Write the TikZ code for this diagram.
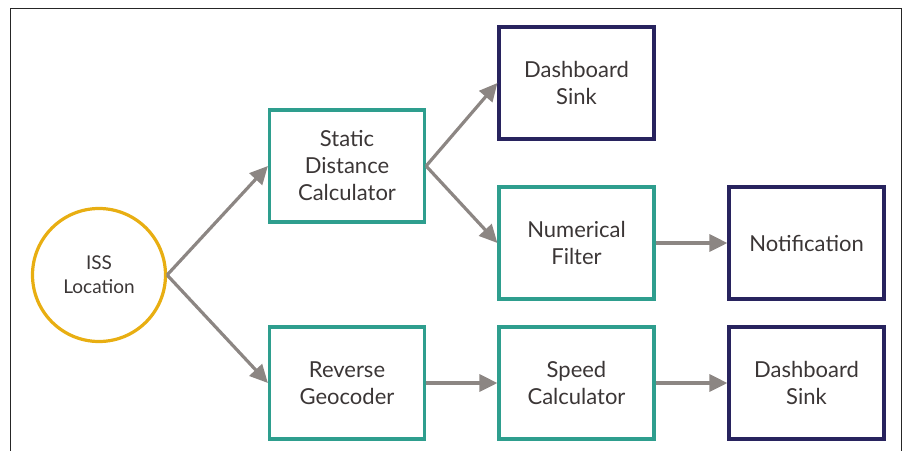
\documentclass[tikz,border=0pt]{standalone}
\usepackage{fontspec}
\setmainfont{Lato}
\usetikzlibrary{arrows.meta}
\definecolor{procteal}{HTML}{2E9E8E}
\definecolor{sinknavy}{HTML}{28235E}
\definecolor{srcgold}{HTML}{E8AE12}
\definecolor{flowgray}{HTML}{8C8683}
\definecolor{labelgray}{HTML}{3B3636}
\tikzset{
  box/.style={rectangle, draw, line width=3.2pt, minimum width=155pt, minimum height=112pt,
    align=center, text=labelgray, font=\fontsize{22pt}{27pt}\selectfont},
  proc/.style={box, draw=procteal},
  sink/.style={box, draw=sinknavy},
  source/.style={circle, draw=srcgold, line width=3.2pt, minimum size=133pt, inner sep=0pt,
    align=center, text=labelgray, font=\fontsize{19pt}{24pt}\selectfont},
  flow/.style={draw=flowgray, line width=3.2pt, -{Triangle[length=18pt,width=17pt]}},
}
\begin{document}
\begin{tikzpicture}[x=1pt,y=-1pt]
  \useasboundingbox (0,0) rectangle (904,450);
  \clip (0,0) rectangle (904,450);
  % outer frame
  \draw[line width=1pt, black!85] (10,8) rectangle (901,470);

  \node[source] (iss) at (99,275) {ISS\\Location};
  \node[proc] (static) at (347,166) {Static\\Distance\\Calculator};
  \node[proc] (reverse) at (347,383) {Reverse\\Geocoder};
  \node[sink] (dash1) at (576.5,83) {Dashboard\\Sink};
  \node[proc] (filter) at (576.5,243) {Numerical\\Filter};
  \node[proc] (speed) at (576.5,383) {Speed\\Calculator};
  \node[sink] (notify) at (806.5,243) {Notification};
  \node[sink] (dash2) at (806.5,383) {Dashboard\\Sink};

  \draw[flow] (iss.east) -- (static.west);
  \draw[flow] (iss.east) -- (reverse.west);
  \draw[flow] (static.east) -- (dash1.west);
  \draw[flow] (static.east) -- (filter.west);
  \draw[flow] (filter.east) -- (notify.west);
  \draw[flow] (reverse.east) -- (speed.west);
  \draw[flow] (speed.east) -- (dash2.west);
\end{tikzpicture}
\end{document}
